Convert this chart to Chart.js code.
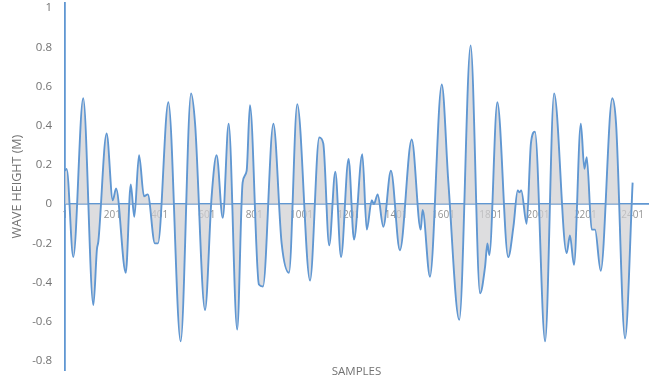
<!DOCTYPE html>
<html>
<head>
<meta charset="utf-8">
<title>Wave height</title>
<script src="https://cdn.jsdelivr.net/npm/chart.js@4.4.1/dist/chart.umd.min.js"></script>
<style>
  html, body { margin: 0; padding: 0; background: #fff; }
</style>
</head>
<body>
<canvas id="waveChart" width="665" height="384"></canvas>
<script>
// turning points of the record: sample number and surface height (m)
const sampleNo = [
  1, 8, 36, 78, 121, 136, 142, 177, 203, 217, 258, 279, 294, 314, 335, 351, 381, 394,
  438, 490, 534, 551, 593, 621, 642, 668, 693, 729, 752, 769, 783, 821, 838, 882, 917,
  948, 983, 1037, 1076, 1093, 1118, 1144, 1168, 1200, 1223, 1258, 1277, 1298, 1307,
  1323, 1347, 1379, 1417, 1467, 1505, 1513, 1544, 1594, 1622, 1668, 1716, 1756, 1777,
  1787, 1795, 1829, 1875, 1897, 1915, 1923, 1930, 1953, 1971, 1988, 2031, 2069, 2122,
  2136, 2153, 2182, 2197, 2207, 2228, 2242, 2266, 2315, 2331, 2369, 2401
]
const waveHeight = [
  0.17, 0.18, -0.27, 0.54, -0.515, -0.23, -0.19, 0.36, 0.02, 0.08, -0.35, 0.10, -0.065, 0.25, 0.04, 0.05, -0.2, -0.2,
  0.52, -0.70, 0.565, 0.41, -0.54, 0.04, 0.25, -0.07, 0.41, -0.64, 0.11, 0.17, 0.505, -0.41, -0.42, 0.41, -0.2,
  -0.35, 0.51, -0.39, 0.34, 0.31, -0.21, 0.165, -0.27, 0.23, -0.18, 0.255, -0.13, 0.02, 0.0,
  0.05, -0.115, 0.17, -0.235, 0.33, -0.13, -0.03, -0.37, 0.61, 0.11, -0.59, 0.81, -0.455, -0.32,
  -0.2, -0.26, 0.52, -0.27, -0.115, 0.07, 0.06, 0.07, -0.1, 0.31, 0.37, -0.70, 0.565, -0.25,
  -0.16, -0.31, 0.41, 0.18, 0.24, -0.13, -0.13, -0.34, 0.54, 0.41, -0.685, 0.11
]
const xTicks = [1, 201, 401, 601, 801, 1001, 1201, 1401, 1601, 1801, 2001, 2201, 2401]
const yTicks = [-0.8, -0.6, -0.4, -0.2, 0, 0.2, 0.4, 0.6, 0.8, 1]

const blue = '#6097d2'
const textGrey = '#737373'

Chart.defaults.font.family = "'Open Sans', sans-serif"

const points = sampleNo.map((s, i) => ({x: s, y: waveHeight[i]}))

new Chart(document.getElementById('waveChart'), {
  type: 'line',
  data: {
    datasets: [{
      data: points,
      borderColor: blue,
      borderWidth: 1.9,
      backgroundColor: 'rgba(208, 208, 211, 0.72)',
      fill: 'origin',
      pointRadius: 0,
      cubicInterpolationMode: 'monotone'
    }]
  },
  options: {
    responsive: false,
    animation: false,
    layout: {padding: {left: 0, right: 17, top: 3, bottom: 5}},
    plugins: {
      legend: {display: false},
      tooltip: {enabled: false},
      // x axis sits on the zero line, so its caption goes at the foot of the chart
      title: {
        display: true,
        position: 'bottom',
        fullSize: false,
        text: 'SAMPLES',
        color: textGrey,
        font: {size: 11.5, weight: 'normal'},
        padding: {top: -5, bottom: 0}
      }
    },
    scales: {
      x: {
        type: 'linear',
        position: {y: 0},
        min: 1,
        max: 2466,
        z: 1,
        grid: {display: false, drawTicks: false},
        border: {display: true, color: blue, width: 1.8},
        ticks: {
          color: '#939393',
          font: {size: 10},
          padding: 5,
          maxRotation: 0,
          autoSkip: false,
          callback: v => String(v)
        },
        afterBuildTicks: scale => {
          scale.ticks = xTicks.map(v => ({value: v}))
        },
        afterFit: scale => {
          scale.paddingLeft = 0
          scale.paddingRight = 0
        }
      },
      y: {
        min: -0.847,
        max: 1.026,
        z: 1,
        grid: {display: false, drawTicks: false},
        border: {display: true, color: blue, width: 1.8},
        ticks: {
          color: textGrey,
          font: {size: 11.5},
          padding: 13,
          callback: v => String(Math.round(v * 10) / 10)
        },
        title: {
          display: true,
          text: 'WAVE HEIGHT (M)',
          color: textGrey,
          font: {size: 12.5},
          padding: {top: 10, bottom: 0}
        },
        afterBuildTicks: scale => {
          scale.ticks = yTicks.map(v => ({value: v}))
        },
        afterFit: scale => {
          scale.width = 65
          scale.paddingTop = 0
          scale.paddingBottom = 0
        }
      }
    }
  }
})
</script>
</body>
</html>
